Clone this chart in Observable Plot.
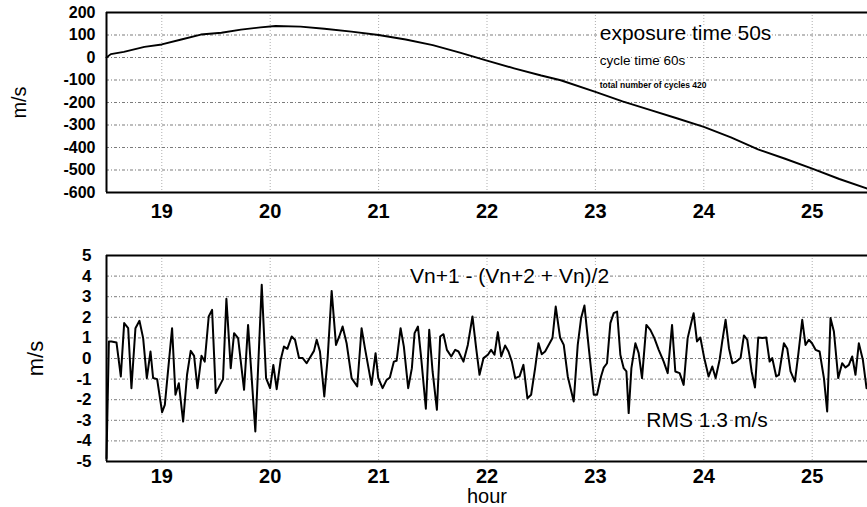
<!DOCTYPE html>
<html>
<head>
<meta charset="utf-8">
<script src="https://cdn.jsdelivr.net/npm/d3@7"></script>
<script src="https://cdn.jsdelivr.net/npm/@observablehq/plot@0.6"></script>
<style>
  html, body { margin: 0; padding: 0; background: white; }
  #chart { width: 867px; height: 507px; overflow: hidden; }
  #chart svg { display: block; }
</style>
</head>
<body>
<div id="chart"></div>
<script>
// ---- data ----
const xTicks = [19, 20, 21, 22, 23, 24, 25];
const topYTicks = [200, 100, 0, -100, -200, -300, -400, -500, -600];
const bottomYTicks = [5, 4, 3, 2, 1, 0, -1, -2, -3, -4, -5];

// upper panel: velocity (m/s) vs hour
const topHours = [18.49, 18.53, 18.65, 18.84, 19.0, 19.18, 19.36, 19.55, 19.73, 19.91, 20.05, 20.28, 20.5, 20.75, 21.0, 21.25, 21.5, 21.75, 22.0, 22.25, 22.5, 22.68, 23.0, 23.25, 23.51, 23.75, 24.0, 24.25, 24.5, 24.75, 25.0, 25.25, 25.51];
const topValues = [0, 15, 25, 47, 58, 80, 102, 110, 124, 134, 140, 137, 128, 115, 100, 80, 55, 22, -14, -48, -80, -101, -153, -195, -234, -270, -308, -355, -408, -450, -494, -540, -583];

// lower panel: Vn+1 - (Vn+2 + Vn)/2 (m/s) vs hour
const bottomHours = [
  18.490, 18.512, 18.536, 18.582, 18.622, 18.653, 18.690, 18.720, 18.757, 18.794, 18.828, 18.862, 18.896, 18.920, 18.957, 19.003, 19.028, 19.095, 19.126, 19.157, 19.197, 19.233, 19.267, 19.298, 19.329, 19.366, 19.396, 19.433, 19.464, 19.498, 19.565, 19.596, 19.636, 19.667, 19.704, 19.759, 19.796, 19.863,
  19.922, 19.962, 19.999, 20.029, 20.060, 20.097, 20.127, 20.158, 20.198, 20.229, 20.266, 20.300, 20.336, 20.373, 20.404, 20.429, 20.459, 20.499, 20.530, 20.567, 20.607, 20.637, 20.668, 20.705, 20.751, 20.803, 20.843, 20.874, 20.935, 20.972, 20.997, 21.037, 21.074, 21.104, 21.141, 21.166, 21.203, 21.233, 21.273,
  21.307, 21.332, 21.363, 21.393, 21.436, 21.467, 21.498, 21.538, 21.568, 21.599, 21.630, 21.670, 21.707, 21.737, 21.783, 21.823, 21.866, 21.900, 21.931, 21.968, 22.008, 22.038, 22.069, 22.100, 22.131, 22.167, 22.198, 22.229, 22.260, 22.300, 22.336, 22.373, 22.407, 22.444, 22.475, 22.505, 22.536, 22.604, 22.634, 22.674,
  22.708, 22.745, 22.800, 22.837, 22.868, 22.899, 22.939, 22.985, 23.015, 23.052, 23.077, 23.107, 23.138, 23.169, 23.200, 23.230, 23.261, 23.286, 23.307, 23.332, 23.369, 23.399, 23.430, 23.470, 23.507, 23.544, 23.584, 23.630, 23.667, 23.707, 23.737, 23.777, 23.814, 23.851, 23.891, 23.906, 23.937, 23.968, 24.004, 24.044,
  24.078, 24.109, 24.146, 24.170, 24.201, 24.232, 24.263, 24.300, 24.339, 24.370, 24.401, 24.441, 24.472, 24.502, 24.539, 24.576, 24.607, 24.631, 24.668, 24.693, 24.739, 24.770, 24.800, 24.840, 24.871, 24.908, 24.938, 24.969, 24.998, 25.031, 25.068, 25.108, 25.138, 25.169, 25.200, 25.240, 25.276, 25.307, 25.338, 25.369, 25.399, 25.430, 25.467, 25.501
];
const bottomValues = [
  -4.84, 0.83, 0.83, 0.78, -0.87, 1.72, 1.47, -1.44, 1.47, 1.83, 0.99, -0.95, 0.34, -0.95, -1.00, -2.61, -2.25, 1.47, -1.76, -1.20, -3.06, -0.79, 0.37, 0.13, -1.44, 0.13, -0.15, 2.04, 2.36, -1.68, -1.00, 2.90, -0.47, 1.23, 0.99, -1.52, 1.63, -3.54,
  3.58, -0.95, -1.44, -0.31, -1.49, -0.06, 0.58, 0.47, 1.07, 0.91, 0.02, 0.02, -0.23, 0.10, 0.37, 0.91, 0.34, -1.84, 0.02, 3.28, 0.66, 1.07, 1.55, 0.74, -0.95, -1.36, 1.47, 0.50, -1.28, 0.26, -0.95, -1.44, -1.04, -0.92, -0.15, -0.11, 1.47, 0.58, -1.44,
  -0.47, 1.23, 1.55, 0.02, -2.44, 1.39, -0.63, -2.49, 1.07, 1.18, 0.42, 0.10, 0.42, 0.34, -0.15, 0.66, 2.04, 0.50, -0.79, 0.02, 0.18, 0.42, 0.18, 1.28, 0.10, 0.63, 0.34, -0.15, -0.95, -0.87, -0.31, -1.93, -1.76, -0.47, 0.74, 0.21, 0.34, 0.99, 2.52, 1.02,
  0.66, -0.87, -2.09, 0.66, 1.96, 2.57, 0.50, -1.76, -1.76, -0.87, -0.44, -0.23, 1.72, 2.20, 2.28, 0.18, -0.47, -0.63, -2.65, -0.47, 0.74, 0.26, -0.95, 1.63, 1.39, 0.99, 0.42, -0.15, -0.71, 1.63, -0.63, -0.71, -1.28, 0.99, 1.88, 2.20, 0.83, 1.02, 0.02, -0.87,
  -0.39, -0.95, -0.06, 0.83, 1.88, 0.50, -0.23, -0.15, 0.02, 1.12, 0.91, -0.63, -1.41, 1.02, 0.99, 1.02, -0.15, 0.02, -0.87, -0.79, 0.74, 0.47, -0.63, -1.12, 0.18, 1.88, 0.66, 0.91, 0.74, 0.42, 0.34, -0.95, -2.57, 1.96, 1.31, -0.95, -0.23, -0.44, -0.31, 0.10, -0.79, 0.74, -0.06, -1.44
];

// annotation texts
const topNotes = ["exposure time 50s", "cycle time 60s", "total number of cycles 420"];
const topNoteX = [23.04, 23.04, 23.04];
const topNoteY = [108, -12, -123];
const bottomNotes = ["Vn+1 - (Vn+2 + Vn)/2", "RMS 1.3 m/s"];
const bottomNoteX = [21.29, 23.47];
const bottomNoteY = [3.98, -2.98];

const xDomain = [18.49, 25.51];
const font = "'Liberation Sans', Arial, Helvetica, sans-serif";

const topRows = topHours.map((h, i) => ({h, v: topValues[i]}));
const bottomRows = bottomHours.map((h, i) => ({h, v: bottomValues[i]}));

const gridStyle = {stroke: "#222", strokeWidth: 0.8, strokeDasharray: "3,2,1,2", strokeOpacity: 0.75};
const vgridStyle = {stroke: "#555", strokeWidth: 0.8, strokeDasharray: "1,2", strokeOpacity: 0.6};

const topPlot = Plot.plot({
  width: 867, height: 235,
  marginLeft: 106, marginRight: 0, marginTop: 12, marginBottom: 43,
  style: {fontFamily: font, background: "white", color: "black", overflow: "visible"},
  x: {domain: xDomain, label: null},
  y: {domain: [-600, 200], label: null},
  marks: [
    Plot.ruleY(topYTicks.slice(1, -1), gridStyle),
    Plot.ruleX(xTicks, vgridStyle),
    Plot.line(topRows, {x: "h", y: "v", stroke: "black", strokeWidth: 1.9}),
    Plot.text([topNotes[0]], {x: [topNoteX[0]], y: [topNoteY[0]], text: d => d, textAnchor: "start", fontSize: 21, fill: "black", stroke: "white", strokeWidth: 4}),
    Plot.text([topNotes[1]], {x: [topNoteX[1]], y: [topNoteY[1]], text: d => d, textAnchor: "start", fontSize: 13.5, fill: "black", stroke: "white", strokeWidth: 3}),
    Plot.text([topNotes[2]], {x: [topNoteX[2]], y: [topNoteY[2]], text: d => d, textAnchor: "start", fontSize: 8.5, fontWeight: "bold", fill: "black", stroke: "white", strokeWidth: 1.5}),
    Plot.ruleY([200, -600], {stroke: "black", strokeWidth: 2}),
    Plot.ruleX([xDomain[0]], {stroke: "black", strokeWidth: 2}),
    Plot.axisX(xTicks, {tickSize: 0, tickPadding: 11, fontSize: 20, fontWeight: "bold", tickFormat: d => String(d), label: null}),
    Plot.axisY(topYTicks, {tickSize: 0, tickPadding: 11, fontSize: 16, fontWeight: "bold", tickFormat: d => String(d), label: null}),
    Plot.text(["m/s"], {frameAnchor: "left", dx: -87, rotate: -90, fontSize: 20, textAnchor: "middle", lineAnchor: "middle", fill: "black"})
  ]
});

const bottomPlot = Plot.plot({
  width: 867, height: 272,
  marginLeft: 106, marginRight: 0, marginTop: 20, marginBottom: 46,
  style: {fontFamily: font, background: "white", color: "black", overflow: "visible"},
  x: {domain: xDomain, label: null},
  y: {domain: [-5, 5], label: null},
  marks: [
    Plot.ruleY(bottomYTicks.slice(1, -1), gridStyle),
    Plot.ruleX(xTicks, vgridStyle),
    Plot.line(bottomRows, {x: "h", y: "v", stroke: "black", strokeWidth: 2}),
    Plot.text(bottomNotes, {x: bottomNoteX, y: bottomNoteY, text: d => d, textAnchor: "start", fontSize: 21, fill: "black", stroke: "white", strokeWidth: 4}),
    Plot.ruleY([5, -5], {stroke: "black", strokeWidth: 2}),
    Plot.ruleX([xDomain[0]], {stroke: "black", strokeWidth: 2}),
    Plot.axisX(xTicks, {tickSize: 0, tickPadding: 7, fontSize: 20, fontWeight: "bold", tickFormat: d => String(d), label: null}),
    Plot.axisY(bottomYTicks, {tickSize: 0, tickPadding: 15, fontSize: 17, fontWeight: "bold", tickFormat: d => String(d), label: null}),
    Plot.text(["m/s"], {frameAnchor: "left", dx: -71, rotate: -90, fontSize: 22, textAnchor: "middle", lineAnchor: "middle", fill: "black"}),
    Plot.text(["hour"], {x: [22], frameAnchor: "bottom", dy: 35, fontSize: 20, textAnchor: "middle", lineAnchor: "middle", fill: "black"})
  ]
});

const chart = document.getElementById("chart");
chart.appendChild(topPlot);
chart.appendChild(bottomPlot);
</script>
</body>
</html>
